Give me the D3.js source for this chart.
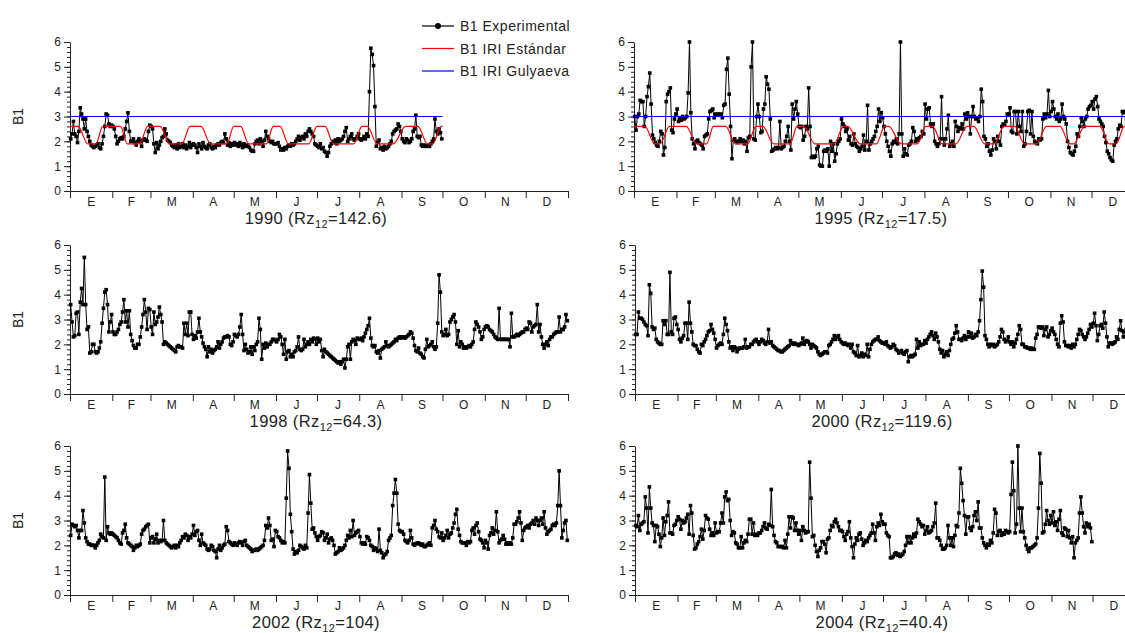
<!DOCTYPE html>
<html>
<head>
<meta charset="utf-8">
<script src="https://cdn.jsdelivr.net/npm/d3@7"></script>
<style>
  body { margin: 0; background: #fff; }
  svg { display: block; font-family: "Liberation Sans", Arial, sans-serif; }
</style>
</head>
<body>
<div id="chart"></div>
<script>
const monthLabels = ["E","F","M","A","M","J","J","A","S","O","N","D"];
const monthDays = [31,28,31,30,31,30,31,31,30,31,30,31];
const yTicks = [0,1,2,3,4,5,6];

// B1 experimental, one value per day, one month per line
const b1_1990 = [
  2.1,2.3,2.8,2.3,2.2,1.95,2.4,3.35,3.1,2.9,2.5,2.9,2.4,2.2,2.0,1.85,1.8,1.75,1.8,1.85,1.9,1.75,1.7,1.9,2.2,2.6,3.1,3.05,2.7,2.6,2.65,
  2.6,2.5,2.2,1.9,2.0,2.1,2.15,2.1,2.2,2.5,2.8,3.15,2.4,2.0,2.0,2.1,1.95,1.85,2.0,2.1,2.0,1.8,2.05,2.1,2.05,2.0,2.4,2.65,
  2.6,2.5,1.9,1.55,1.95,1.7,1.85,2.0,2.15,2.2,2.5,2.3,2.05,2.0,1.95,1.85,1.8,1.75,1.85,1.7,1.9,1.75,1.8,1.9,1.75,1.85,1.7,1.8,1.95,1.75,1.85,
  1.9,1.85,1.75,1.55,1.9,1.8,1.7,1.95,1.8,1.75,1.7,1.85,1.9,1.75,1.7,1.8,1.75,1.85,1.9,1.85,1.95,2.0,1.95,2.3,2.1,1.85,1.95,1.8,1.9,1.85,
  1.95,1.85,1.9,1.8,1.95,1.85,1.75,1.9,1.8,1.85,1.8,1.75,1.65,1.6,1.6,1.9,2.0,2.05,1.9,2.1,2.0,1.8,2.05,2.4,2.2,2.1,2.0,1.95,2.0,1.9,1.9,
  1.9,1.95,1.8,1.65,1.7,1.65,1.75,1.7,1.8,1.85,1.8,1.9,1.85,1.9,2.0,2.1,2.2,2.05,2.15,2.2,2.1,2.3,2.2,2.4,2.5,2.4,2.3,2.2,1.9,1.85,
  1.8,1.75,1.9,1.7,1.75,1.6,1.55,1.4,1.55,1.8,1.9,2.0,1.95,2.05,1.9,2.1,2.0,2.05,2.1,2.2,2.4,2.55,2.0,2.1,2.2,2.3,2.1,2.05,2.1,2.2,2.3,
  2.1,2.05,2.1,2.2,2.1,2.3,2.2,4.0,5.75,5.5,5.05,3.4,1.8,1.95,2.05,1.7,1.75,1.65,1.8,1.7,1.75,1.8,1.9,2.0,2.3,2.4,2.45,2.5,2.7,2.6,2.4,
  2.1,2.0,1.95,2.1,2.05,1.95,2.0,2.1,2.4,2.5,3.05,2.2,2.15,2.2,1.85,1.8,1.85,1.8,1.8,1.85,1.8,1.9,2.0,2.1,2.9,2.4,2.3,2.5,2.35,2.1
];
const b1_1995 = [
  3.0,2.45,3.0,3.1,3.65,3.6,3.6,2.6,3.0,3.8,4.2,4.75,3.5,2.25,2.1,1.95,1.85,1.8,2.0,2.4,2.3,1.45,1.75,3.6,3.9,4.0,4.15,2.45,2.35,2.9,3.1,
  3.3,2.8,2.95,2.85,3.0,2.9,2.95,3.0,3.95,6.0,3.15,2.1,1.9,1.7,2.0,2.05,1.95,1.9,1.85,1.7,2.2,2.25,2.3,2.9,3.2,3.25,3.3,2.95,
  3.1,3.05,3.1,3.05,3.1,2.95,3.45,3.5,4.9,5.35,3.9,2.6,1.3,2.05,2.1,2.0,1.95,2.0,2.1,2.0,2.05,1.9,2.0,1.6,2.15,2.2,5.0,6.0,2.1,2.05,3.0,
  3.5,3.0,2.35,2.4,3.3,3.5,4.6,4.3,4.1,2.9,1.6,1.65,1.7,1.75,1.7,1.75,2.8,1.7,1.75,1.8,2.0,2.2,2.6,2.0,1.65,3.5,2.9,3.3,3.6,3.1,
  2.6,2.55,2.6,2.05,2.2,2.6,2.5,4.15,2.6,1.35,1.4,1.35,1.4,1.7,1.8,1.05,1.0,1.0,1.6,1.65,1.6,1.7,1.0,2.0,1.6,1.9,1.2,1.5,1.9,2.0,2.1,
  2.9,2.7,2.6,2.4,2.5,2.05,2.2,1.9,1.85,2.3,1.9,1.8,1.75,1.6,1.7,1.8,2.25,1.65,2.0,3.45,1.65,1.9,2.0,2.1,2.2,2.4,2.6,3.3,2.8,3.15,
  2.95,2.6,2.3,2.0,1.8,1.6,1.4,1.9,2.0,1.95,2.1,1.9,2.3,6.0,2.3,1.4,1.7,1.5,1.45,1.85,1.9,2.0,2.55,2.4,2.0,2.1,2.05,2.15,2.2,2.4,2.3,
  3.5,2.9,3.3,3.35,2.7,2.6,2.7,2.0,1.9,1.8,1.9,2.1,3.8,2.1,1.85,2.1,2.5,3.05,1.8,1.9,2.0,1.8,2.8,2.6,2.4,2.55,2.5,2.7,2.5,3.1,2.9,
  3.15,3.0,2.3,3.0,3.4,3.0,2.9,2.95,2.8,3.0,4.1,3.6,2.2,2.1,1.8,1.9,1.6,1.45,1.65,2.1,2.0,1.7,2.2,2.0,1.85,2.6,2.7,2.65,2.8,3.1,
  3.1,3.35,2.4,2.35,3.2,3.2,2.3,3.2,2.6,2.4,3.2,1.8,1.9,2.4,3.2,3.25,2.3,3.2,2.2,2.0,1.95,1.9,2.1,2.05,2.1,2.9,3.1,2.95,3.1,4.05,3.0,
  3.2,3.6,3.3,3.0,2.9,3.1,2.8,2.9,3.5,3.0,2.9,2.7,2.0,1.75,1.55,1.5,1.45,1.6,1.8,2.3,2.2,2.6,2.95,2.8,2.6,2.9,3.0,3.3,3.4,3.45,
  3.6,3.3,3.7,3.8,3.4,2.9,2.8,2.7,2.6,2.2,1.95,1.6,1.5,1.35,1.25,1.2,1.85,2.0,2.1,2.5,2.65,2.6,3.2,3.15,3.2,2.9,3.0,3.1,3.0,2.9,3.0
];
const b1_1998 = [
  3.6,2.9,2.3,2.35,3.25,3.3,2.4,3.7,4.25,3.6,5.5,3.6,2.6,2.7,1.65,1.7,2.0,2.0,1.7,1.65,1.7,1.85,2.1,2.85,3.45,4.1,4.2,3.6,2.5,2.9,3.2,
  2.5,2.4,2.4,2.5,2.6,2.8,2.9,3.3,3.8,2.9,3.35,2.7,3.35,2.4,2.15,1.95,1.85,1.85,2.0,2.0,2.3,2.7,3.2,3.8,3.3,2.6,3.45,3.4,
  2.7,2.4,3.3,2.8,2.9,3.1,3.5,3.2,2.9,2.0,2.1,2.05,2.0,1.95,1.9,1.85,1.8,1.75,1.7,1.9,1.95,1.9,1.9,1.85,2.85,2.4,2.85,2.35,3.3,3.3,2.4,
  2.2,2.35,2.25,2.5,3.05,2.5,2.3,2.05,1.9,1.8,1.5,1.9,1.7,1.8,1.65,1.75,1.8,1.9,2.1,1.85,2.0,2.1,2.25,2.3,2.3,2.35,2.3,2.0,1.95,2.1,
  2.4,2.35,2.3,2.4,2.7,3.2,2.4,1.75,2.0,1.8,1.65,1.7,1.9,1.6,1.9,1.75,2.0,2.1,3.05,2.6,1.4,2.0,1.85,2.05,1.9,2.0,2.0,2.1,2.2,2.2,2.15,
  2.1,2.2,2.4,2.3,2.0,1.6,2.2,1.4,1.7,1.75,1.5,1.6,1.5,1.7,1.75,1.9,2.3,1.8,1.75,1.8,2.2,1.9,2.0,2.1,2.0,2.2,2.1,2.25,2.2,2.0,
  2.25,2.1,2.2,1.75,1.5,1.8,1.7,1.65,1.6,1.55,1.5,1.45,1.4,1.35,1.3,1.25,1.3,1.2,1.3,1.4,1.05,1.4,1.9,2.0,1.4,2.1,2.2,2.15,2.0,2.25,2.2,
  2.2,2.25,2.15,2.3,2.45,2.6,2.75,3.05,2.25,1.95,1.9,1.95,1.7,1.65,1.75,1.45,1.8,1.85,1.9,2.1,1.95,1.9,1.95,2.0,2.05,2.1,2.2,2.15,2.25,2.3,2.25,
  2.3,2.3,2.25,2.3,2.35,2.4,2.5,2.45,2.25,1.95,1.75,1.7,1.85,1.65,1.6,1.5,1.45,1.8,2.2,1.9,1.95,2.0,2.1,1.9,1.8,1.9,2.85,4.8,4.1,2.5,
  2.35,2.4,2.6,2.35,2.4,2.9,3.0,3.1,3.2,2.9,2.0,2.55,1.9,2.1,2.0,1.85,1.9,1.85,1.9,1.95,1.9,2.0,2.1,2.6,2.9,2.8,2.7,2.5,2.2,2.3,2.6,
  2.7,2.75,2.7,2.6,2.55,2.5,2.4,2.3,2.25,2.2,3.45,2.2,2.2,2.2,2.2,2.2,2.2,2.2,1.9,3.25,2.3,2.3,2.35,2.4,2.35,2.4,2.45,2.5,2.5,2.6,
  2.65,2.6,2.9,2.85,2.5,2.7,2.75,2.8,3.6,2.5,2.8,2.3,2.0,1.85,2.0,2.1,1.95,2.2,2.3,2.3,2.4,2.45,2.5,2.5,3.1,2.5,2.6,2.6,2.7,3.2,2.95
];
const b1_2000 = [
  2.4,2.4,3.3,3.05,3.05,3.0,2.9,2.8,2.75,2.35,4.4,4.05,2.7,2.6,2.65,2.2,2.1,2.05,2.0,2.0,2.95,2.8,2.95,2.4,2.4,4.9,2.5,2.4,3.05,3.1,2.8,
  2.6,2.2,2.1,2.25,2.35,2.85,2.85,2.2,3.7,2.85,2.5,2.0,1.95,1.95,1.8,1.7,1.65,2.0,1.95,2.1,2.2,2.35,2.5,2.55,2.8,2.6,2.45,2.2,
  1.85,1.95,2.0,2.05,2.0,2.4,3.05,2.8,2.55,2.1,1.85,1.9,1.75,1.9,1.85,1.7,1.8,1.85,1.85,1.85,1.9,2.2,1.85,1.9,1.9,2.0,2.0,2.1,2.15,2.2,2.1,
  2.0,2.1,2.2,2.15,2.05,2.0,2.1,2.6,2.05,2.1,1.95,1.9,1.85,1.8,1.75,1.75,1.7,1.7,1.75,1.8,1.85,1.9,1.95,2.15,2.05,2.0,2.05,2.0,2.0,1.95,
  2.0,2.05,2.25,2.0,2.1,2.15,2.1,2.0,1.85,2.0,1.95,1.9,1.85,1.7,1.6,1.55,1.6,1.65,1.7,1.7,1.65,1.95,2.0,2.1,2.2,2.35,2.2,2.3,2.35,2.2,2.1,
  2.05,2.0,2.05,2.0,1.95,2.0,1.85,2.0,1.7,1.65,1.55,1.95,1.5,1.55,1.65,1.5,1.6,1.55,2.0,1.5,1.8,2.0,2.1,2.15,2.2,2.2,2.3,2.15,2.1,2.05,
  2.05,2.0,2.1,1.95,1.9,1.85,1.9,2.0,1.95,1.8,1.75,1.65,1.7,1.75,1.65,1.6,1.7,1.75,1.3,1.5,1.55,1.5,1.55,1.6,2.2,1.85,2.1,1.95,2.0,2.0,2.15,
  2.05,2.2,2.3,2.4,2.5,2.35,2.2,2.45,2.3,2.1,1.8,1.65,1.75,1.5,1.6,1.7,1.55,1.75,2.0,2.2,2.25,2.45,2.75,2.5,2.2,2.2,2.15,2.25,2.35,2.2,2.3,
  2.5,2.3,2.45,2.25,2.3,2.4,2.35,2.5,2.95,3.8,4.95,4.3,2.35,2.2,2.0,1.9,2.0,1.95,2.0,1.9,1.95,2.0,2.1,2.3,2.6,2.5,2.2,2.1,2.15,2.3,
  2.1,2.0,2.1,1.9,2.05,2.2,2.4,2.75,2.6,2.0,2.0,1.9,1.9,1.85,1.85,1.8,1.85,1.8,1.8,2.25,2.4,2.7,2.7,2.65,2.7,2.35,2.6,2.7,2.3,2.4,2.55,
  2.65,2.5,2.4,2.2,2.0,1.9,2.85,3.15,2.9,2.1,1.95,1.95,1.9,1.95,1.85,2.0,1.9,2.0,2.2,2.4,2.6,2.55,2.4,2.3,2.2,2.3,2.45,2.6,2.8,2.7,
  2.85,3.25,2.75,2.15,2.4,2.75,2.8,2.65,3.3,2.85,2.3,1.9,2.05,2.05,2.0,2.05,2.1,2.3,2.2,2.6,2.95,2.55,2.3,2.5,2.6,2.7,2.45,2.5,2.6,2.5,2.6
];
const b1_2002 = [
  2.4,2.85,2.8,2.75,2.8,2.6,2.3,2.6,2.6,3.4,2.9,2.3,2.15,2.05,2.05,2.0,2.0,2.0,1.9,2.0,2.1,2.2,2.45,2.35,2.3,4.75,2.2,2.75,2.5,2.45,2.5,
  2.45,2.4,2.35,2.3,2.2,2.1,2.05,2.5,2.6,2.85,2.3,2.1,2.05,2.0,1.95,1.8,1.9,2.0,1.95,2.0,2.05,2.45,2.6,2.65,2.75,2.8,2.85,2.1,
  2.3,2.35,2.1,2.25,2.45,2.1,2.2,2.15,2.2,3.0,2.2,2.1,2.05,2.0,1.95,1.9,1.95,2.0,1.9,2.0,1.95,2.1,2.2,2.35,2.3,2.45,2.4,2.2,2.35,2.3,2.45,
  2.8,2.4,2.55,2.6,2.2,2.0,2.45,2.1,2.05,2.0,1.85,1.8,1.85,2.0,1.95,1.8,1.75,1.5,1.85,2.0,1.8,1.9,2.0,2.05,2.75,2.6,2.15,2.1,2.05,2.0,
  2.1,2.05,2.0,2.1,2.15,2.1,2.0,2.15,2.2,2.0,1.95,1.9,1.85,1.75,1.8,1.8,1.85,1.8,1.85,1.9,1.95,2.0,2.2,2.8,2.7,3.1,2.8,2.2,2.25,1.95,2.6,
  2.55,2.35,2.3,2.2,2.1,2.15,2.1,3.9,5.8,5.1,3.25,2.55,1.85,1.65,1.75,1.7,1.8,2.0,1.95,1.9,1.85,2.0,1.9,3.3,4.85,3.7,2.65,2.7,2.5,2.35,
  2.2,2.35,2.4,2.55,2.5,2.2,2.3,2.45,2.1,2.25,2.3,2.2,2.0,1.65,1.7,1.75,1.9,1.8,1.85,1.9,2.0,2.2,2.4,2.3,2.6,2.35,3.0,2.4,2.5,2.55,2.6,
  2.35,2.1,2.05,2.1,2.05,2.35,2.3,2.2,2.0,1.95,1.8,1.9,1.85,1.75,2.65,1.8,1.7,1.5,1.6,1.65,1.75,2.2,2.3,2.4,3.6,4.1,4.65,4.1,2.85,2.6,2.55,
  2.55,2.45,2.2,2.15,2.1,2.2,2.6,2.3,2.05,2.0,2.05,2.1,2.1,2.05,2.0,2.05,1.95,1.95,2.0,2.05,2.1,2.0,2.7,2.8,3.0,2.65,2.55,2.35,2.3,2.5,
  2.2,2.3,2.4,2.6,2.3,2.45,2.5,2.7,2.9,3.25,3.45,2.65,2.4,2.15,2.1,2.1,2.1,2.0,2.15,2.1,2.15,2.6,2.7,2.45,2.8,2.9,2.55,2.25,2.2,2.1,1.9,
  2.2,2.1,1.85,2.4,2.5,2.7,2.45,2.6,3.35,2.55,2.1,2.2,2.25,2.4,2.25,2.05,2.1,2.05,2.1,2.05,2.3,2.85,2.85,2.95,3.1,3.35,2.9,2.2,2.6,2.7,
  2.75,2.8,2.7,2.85,2.9,3.0,2.85,3.1,3.0,2.8,3.0,3.1,2.85,3.35,2.7,2.45,2.55,2.6,2.65,2.8,2.85,2.8,2.9,3.6,5.0,3.6,2.3,2.6,2.9,3.0,2.2
];
const b1_2004 = [
  2.8,2.75,3.2,2.6,2.85,2.9,2.95,3.95,3.5,2.5,4.35,3.5,2.9,2.8,2.15,2.8,2.75,2.45,1.95,2.3,3.1,2.4,2.95,3.2,3.75,2.5,2.5,2.45,2.8,2.85,3.0,
  3.15,3.05,2.65,3.0,2.9,2.95,3.1,3.25,2.45,3.6,3.3,2.4,1.85,1.9,2.05,2.15,2.35,2.65,2.25,2.6,3.2,3.1,3.05,2.65,2.4,2.5,2.4,2.9,
  2.5,2.55,2.55,2.9,3.3,2.9,3.95,4.15,3.8,3.85,3.0,2.4,2.55,2.5,2.1,2.05,1.9,1.9,2.35,1.9,2.1,2.2,2.15,2.45,3.05,3.05,2.45,2.9,2.4,2.45,2.4,
  2.5,2.5,2.6,2.75,2.9,2.7,2.65,2.85,2.8,4.25,2.75,2.4,2.15,2.1,1.95,1.95,1.95,1.95,1.9,2.2,1.9,2.45,3.15,2.7,3.15,3.1,2.6,2.9,2.6,2.45,
  2.6,2.2,2.75,2.6,2.5,2.55,2.55,5.35,3.9,2.35,2.4,2.0,1.75,1.55,1.8,1.9,2.15,2.15,2.05,1.7,2.25,2.3,2.6,2.8,2.75,2.95,3.05,2.9,2.75,2.6,2.6,
  2.55,2.35,2.2,2.45,2.55,2.95,2.3,1.95,1.5,2.05,2.3,2.2,2.45,2.5,2.25,2.0,2.1,2.2,2.15,2.3,2.4,2.5,2.85,2.5,2.2,2.75,2.9,2.8,3.25,2.95,
  2.85,2.85,2.5,2.4,2.35,1.5,1.5,1.55,1.65,1.7,1.6,1.65,1.55,1.6,1.65,1.75,2.0,2.35,2.1,2.35,2.1,2.3,2.45,2.35,2.5,3.05,2.95,2.85,2.75,2.8,2.45,
  2.6,2.75,2.5,2.55,2.6,2.75,2.9,3.7,2.3,2.3,2.2,2.0,1.85,1.85,1.9,2.0,2.8,2.3,2.0,2.3,1.95,2.4,2.8,2.75,3.3,5.1,4.5,3.8,3.2,2.45,3.15,
  3.15,2.7,2.6,2.75,3.2,3.35,3.0,3.75,2.7,2.7,2.3,2.1,2.0,1.9,2.05,2.0,2.2,2.1,2.5,3.45,3.3,2.4,2.55,2.6,2.4,2.5,2.45,2.6,2.55,2.5,
  2.55,4.05,5.35,4.2,2.5,2.85,6.0,3.5,2.55,3.5,2.55,2.3,2.0,1.85,1.75,1.9,1.9,1.95,2.0,2.05,2.3,3.5,5.7,4.5,2.5,2.55,2.85,3.4,3.0,2.85,3.2,
  2.9,3.35,2.8,2.95,2.6,3.05,3.4,2.5,2.4,2.7,2.65,2.35,2.6,2.3,2.1,2.35,1.5,2.1,2.2,2.3,3.3,3.95,3.3,2.75,2.5,2.9,2.75,2.85,2.7,2.15
];

// IRI standard: [day, B1] plateau corners
const iri_1990 = [[0,2.6],[6,2.6],[13,1.9],[19,1.9],[24,2.6],[37,2.6],[42,1.9],[51,1.9],[57,2.6],[66,2.6],[73,1.9],[82,1.9],
  [88,2.6],[96,2.6],[103,1.9],[115,1.9],[120,2.6],[125,2.6],[131,1.9],[144,1.9],[149,2.6],[154,2.6],[160,1.9],[175,1.9],
  [181,2.6],[187,2.6],[193,1.9],[208,1.9],[214,2.6],[218,2.6],[225,1.9],[237,1.9],[246,2.6],[255,2.6],[262,1.9],[266,1.9],[272,2.6],[273,2.6]];
const iri_1995 = [[0,2.6],[8,2.6],[15,1.9],[19,1.9],[26,2.6],[38,2.6],[46,1.9],[53,1.9],[58,2.6],[67,2.6],[74,1.9],[83,1.9],
  [89,2.6],[94,2.6],[102,1.9],[114,1.9],[119,2.6],[124,2.6],[132,1.9],[146,1.9],[153,2.6],[156,2.6],[165,1.9],[177,1.9],
  [183,2.6],[186,2.6],[195,1.9],[207,1.9],[213,2.6],[218,2.6],[225,1.9],[235,1.9],[243,2.6],[248,2.6],[256,1.9],[263,1.9],
  [270,2.6],[278,2.6],[285,1.9],[294,1.9],[301,2.6],[311,2.6],[318,1.9],[321,1.9],[329,2.6],[340,2.6],[347,1.9],[352,1.9],[358,2.6],[365,2.6]];

// IRI Gulyaeva
const gul_1990 = [[0,3],[273,3]];
const gul_1995 = [[0,3],[365,3]];

const W = 1125, H = 633;
const ink = "#222";
const svg = d3.select("#chart").append("svg").attr("width", W).attr("height", H);

const monthStarts = d3.cumsum([0, ...monthDays]);

const panels = [
  {year:"1990", rz:"142.6", exp:b1_1990, iri:iri_1990, gul:gul_1990, left:70,  right:568,  top:42,  bottom:191, yLabel:true},
  {year:"1995", rz:"17.5",  exp:b1_1995, iri:iri_1995, gul:gul_1995, left:634, right:1134, top:42,  bottom:191},
  {year:"1998", rz:"64.3",  exp:b1_1998, left:70,  right:568,  top:245, bottom:394, yLabel:true},
  {year:"2000", rz:"119.6", exp:b1_2000, left:635, right:1135, top:245, bottom:394},
  {year:"2002", rz:"104",   exp:b1_2002, left:70,  right:568,  top:446, bottom:595, yLabel:true},
  {year:"2004", rz:"40.4",  exp:b1_2004, left:635, right:1135, top:446, bottom:595}
];

function styleAxis(a) {
  a.selectAll("path,line").attr("stroke", ink).attr("stroke-width", 1);
  a.selectAll("text").attr("fill", ink).style("font-size", "12px").style("font-family", "Liberation Sans, Arial");
}

panels.forEach(p => {
  const x = d3.scaleLinear().domain([0, 365]).range([p.left, p.right]);
  const y = d3.scaleLinear().domain([0, 6]).range([p.bottom, p.top]);
  const g = svg.append("g");

  // minor y ticks
  g.append("g").attr("transform", `translate(${p.left},0)`)
    .call(d3.axisLeft(y).tickValues(d3.range(0, 6.001, 0.2)).tickSize(3).tickFormat(""))
    .call(a => a.select(".domain").remove())
    .call(styleAxis);
  // major y ticks
  g.append("g").attr("transform", `translate(${p.left},0)`)
    .call(d3.axisLeft(y).tickValues(yTicks).tickFormat(d3.format("d")).tickSize(6).tickSizeOuter(0).tickPadding(3))
    .call(styleAxis);

  // x axis with month boundaries
  g.append("g").attr("transform", `translate(0,${p.bottom})`)
    .call(d3.axisBottom(x).tickValues(monthStarts).tickSize(7).tickSizeOuter(0).tickFormat(""))
    .call(styleAxis);

  g.selectAll(".mlab").data(monthLabels).enter().append("text")
    .attr("x", (d, i) => x((monthStarts[i] + monthStarts[i + 1]) / 2))
    .attr("y", p.bottom + 15)
    .attr("text-anchor", "middle")
    .attr("fill", ink).style("font-size", "12px")
    .text(d => d);

  // title with subscript
  const t = g.append("text")
    .attr("x", (p.left + p.right) / 2 - 3)
    .attr("y", p.bottom + 33)
    .attr("text-anchor", "middle")
    .attr("fill", ink).style("font-size", "16.5px").style("letter-spacing", "0.4px");
  t.append("tspan").text(`${p.year} (Rz`);
  t.append("tspan").attr("dy", 4).style("font-size", "11px").text("12");
  t.append("tspan").attr("dy", -4).text(`=${p.rz})`);

  if (p.yLabel) {
    g.append("text")
      .attr("transform", `translate(23,${(p.top + p.bottom) / 2}) rotate(-90)`)
      .attr("text-anchor", "middle")
      .attr("fill", ink).style("font-size", "14px")
      .text("B1");
  }

  // experimental series
  g.append("path").datum(p.exp)
    .attr("fill", "none").attr("stroke", "#000").attr("stroke-width", 1)
    .attr("d", d3.line().x((d, i) => x(i + 0.5)).y(d => y(d)));
  g.selectAll(".pt").data(p.exp).enter().append("rect")
    .attr("x", (d, i) => x(i + 0.5) - 1.8)
    .attr("y", d => y(d) - 1.8)
    .attr("width", 3.6).attr("height", 3.6)
    .attr("fill", "#000");

  if (p.iri) {
    g.append("path").datum(p.iri)
      .attr("fill", "none").attr("stroke", "#ff0000").attr("stroke-width", 1.2)
      .attr("d", d3.line().curve(d3.curveMonotoneX).x(d => x(d[0])).y(d => y(d[1])));
  }
  if (p.gul) {
    g.append("path").datum(p.gul)
      .attr("fill", "none").attr("stroke", "#0000ff").attr("stroke-width", 1.2)
      .attr("d", d3.line().x(d => x(d[0])).y(d => y(d[1])));
  }
});

// legend
const legendItems = [
  {label: "B1 Experimental", color: "#000", dot: true},
  {label: "B1 IRI Estándar", color: "#ff0000"},
  {label: "B1 IRI Gulyaeva", color: "#0000ff"}
];
const lg = svg.append("g").attr("transform", "translate(422,26)");
legendItems.forEach((d, i) => {
  const row = lg.append("g").attr("transform", `translate(0,${i * 22.5})`);
  row.append("line").attr("x1", 0).attr("x2", 32).attr("y1", 0).attr("y2", 0)
    .attr("stroke", d.color).attr("stroke-width", 1.2);
  if (d.dot) row.append("circle").attr("cx", 16).attr("cy", 0).attr("r", 3).attr("fill", "#000");
  row.append("text").attr("x", 38).attr("y", 5)
    .attr("fill", ink).style("font-size", "14px").style("letter-spacing", "0.5px")
    .text(d.label);
});
</script>
</body>
</html>
